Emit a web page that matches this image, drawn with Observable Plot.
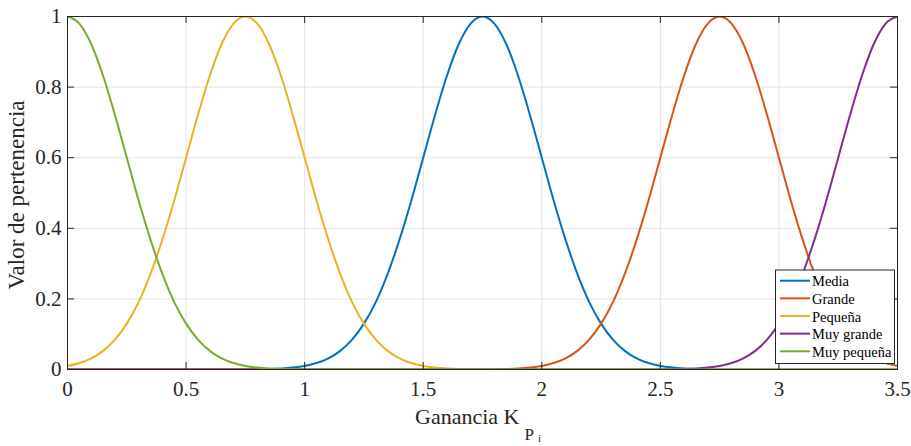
<!DOCTYPE html>
<html>
<head>
<meta charset="utf-8">
<script src="https://cdn.jsdelivr.net/npm/d3@7"></script>
<script src="https://cdn.jsdelivr.net/npm/@observablehq/plot@0.6"></script>
<style>
  html, body { margin: 0; padding: 0; background: #fff; }
  #chart svg { display: block; }
  #chart svg text, #chart svg tspan { font-family: "Liberation Serif", "Times New Roman", serif !important; }
</style>
</head>
<body>
<div id="chart"></div>
<script>
// ---- Data ----
const seriesNames = ["Media", "Grande", "Pequeña", "Muy grande", "Muy pequeña"];
const seriesColors = ["#0072BD", "#D95319", "#EDB120", "#7E2F8E", "#77AC30"];

const xs = [
  0.00, 0.05, 0.10, 0.15, 0.20, 0.25, 0.30, 0.35, 0.40, 0.45,
  0.50, 0.55, 0.60, 0.65, 0.70, 0.75, 0.80, 0.85, 0.90, 0.95,
  1.00, 1.05, 1.10, 1.15, 1.20, 1.25, 1.30, 1.35, 1.40, 1.45,
  1.50, 1.55, 1.60, 1.65, 1.70, 1.75, 1.80, 1.85, 1.90, 1.95,
  2.00, 2.05, 2.10, 2.15, 2.20, 2.25, 2.30, 2.35, 2.40, 2.45,
  2.50, 2.55, 2.60, 2.65, 2.70, 2.75, 2.80, 2.85, 2.90, 2.95,
  3.00, 3.05, 3.10, 3.15, 3.20, 3.25, 3.30, 3.35, 3.40, 3.45,
  3.50
];

const media = [
  0, 0, 0, 0, 0, 0, 0, 0, 0, 0,
  0, 0, 0, 0, 0, 0.0003, 0.0006, 0.0013, 0.0027, 0.0054,
  0.0101, 0.0183, 0.0317, 0.0528, 0.0845, 0.130, 0.191, 0.271, 0.368, 0.479,
  0.600, 0.721, 0.832, 0.922, 0.980, 1, 0.980, 0.922, 0.832, 0.721,
  0.600, 0.479, 0.368, 0.271, 0.191, 0.130, 0.0845, 0.0528, 0.0317, 0.0183,
  0.0101, 0.0054, 0.0027, 0.0013, 0.0006, 0.0003, 0, 0, 0, 0,
  0, 0, 0, 0, 0, 0, 0, 0, 0, 0,
  0
];

const grande = [
  0, 0, 0, 0, 0, 0, 0, 0, 0, 0,
  0, 0, 0, 0, 0, 0, 0, 0, 0, 0,
  0, 0, 0, 0, 0, 0, 0, 0, 0, 0,
  0, 0, 0, 0, 0, 0.0003, 0.0006, 0.0013, 0.0027, 0.0054,
  0.0101, 0.0183, 0.0317, 0.0528, 0.0845, 0.130, 0.191, 0.271, 0.368, 0.479,
  0.600, 0.721, 0.832, 0.922, 0.980, 1, 0.980, 0.922, 0.832, 0.721,
  0.600, 0.479, 0.368, 0.271, 0.191, 0.130, 0.0845, 0.0528, 0.0317, 0.0183,
  0.0101
];

const pequena = [
  0.0101, 0.0183, 0.0317, 0.0528, 0.0845, 0.130, 0.191, 0.271, 0.368, 0.479,
  0.600, 0.721, 0.832, 0.922, 0.980, 1, 0.980, 0.922, 0.832, 0.721,
  0.600, 0.479, 0.368, 0.271, 0.191, 0.130, 0.0845, 0.0528, 0.0317, 0.0183,
  0.0101, 0.0054, 0.0027, 0.0013, 0.0006, 0.0003, 0, 0, 0, 0,
  0, 0, 0, 0, 0, 0, 0, 0, 0, 0,
  0, 0, 0, 0, 0, 0, 0, 0, 0, 0,
  0, 0, 0, 0, 0, 0, 0, 0, 0, 0,
  0
];

const muyGrande = [
  0, 0, 0, 0, 0, 0, 0, 0, 0, 0,
  0, 0, 0, 0, 0, 0, 0, 0, 0, 0,
  0, 0, 0, 0, 0, 0, 0, 0, 0, 0,
  0, 0, 0, 0, 0, 0, 0, 0, 0, 0,
  0, 0, 0, 0, 0, 0, 0, 0, 0, 0,
  0.0003, 0.0006, 0.0013, 0.0027, 0.0054, 0.0101, 0.0183, 0.0317, 0.0528, 0.0845,
  0.130, 0.191, 0.271, 0.368, 0.479, 0.600, 0.721, 0.832, 0.922, 0.980,
  1
];

const muyPequena = [
  1, 0.980, 0.922, 0.832, 0.721, 0.600, 0.479, 0.368, 0.271, 0.191,
  0.130, 0.0845, 0.0528, 0.0317, 0.0183, 0.0101, 0.0054, 0.0027, 0.0013, 0.0006,
  0.0003, 0, 0, 0, 0, 0, 0, 0, 0, 0,
  0, 0, 0, 0, 0, 0, 0, 0, 0, 0,
  0, 0, 0, 0, 0, 0, 0, 0, 0, 0,
  0, 0, 0, 0, 0, 0, 0, 0, 0, 0,
  0, 0, 0, 0, 0, 0, 0, 0, 0, 0,
  0
];

const xTicks = [0, 0.5, 1, 1.5, 2, 2.5, 3, 3.5];
const xTickLabels = ["0", "0.5", "1", "1.5", "2", "2.5", "3", "3.5"];
const yTicks = [0, 0.2, 0.4, 0.6, 0.8, 1];
const yTickLabels = ["0", "0.2", "0.4", "0.6", "0.8", "1"];

// ---- Build long table ----
const seriesValues = [media, grande, pequena, muyGrande, muyPequena];
const rows = [];
seriesValues.forEach((vals, si) => {
  vals.forEach((v, i) => rows.push({x: xs[i], y: v, s: seriesNames[si]}));
});

// ---- Layout ----
const W = 911, H = 446;
const mL = 67, mR = 14, mT = 16, mB = 77;
const plotW = W - mL - mR, plotH = H - mT - mB;
const tickLen = 7;
const serif = "Liberation Serif, Times New Roman, serif";
const axisColor = "#262626";

const chart = Plot.plot({
  width: W,
  height: H,
  marginLeft: mL,
  marginRight: mR,
  marginTop: mT,
  marginBottom: mB,
  style: {background: "#fff", fontFamily: serif},
  x: {domain: [0, 3.5]},
  y: {domain: [0, 1]},
  color: {domain: seriesNames, range: seriesColors},
  marks: [
    Plot.gridX(xTicks, {stroke: "#e3e3e3", strokeOpacity: 1, strokeWidth: 1}),
    Plot.gridY(yTicks, {stroke: "#e3e3e3", strokeOpacity: 1, strokeWidth: 1}),
    Plot.line(rows, {x: "x", y: "y", z: "s", stroke: "s", strokeWidth: 2, curve: "monotone-x", clip: true}),
    // inward ticks: bottom, top, left, right
    Plot.tickX(xTicks, {x: d => d, stroke: axisColor, insetTop: plotH - tickLen}),
    Plot.tickX(xTicks, {x: d => d, stroke: axisColor, insetBottom: plotH - tickLen}),
    Plot.tickY(yTicks, {y: d => d, stroke: axisColor, insetRight: plotW - tickLen}),
    Plot.tickY(yTicks, {y: d => d, stroke: axisColor, insetLeft: plotW - tickLen}),
    Plot.frame({stroke: axisColor, strokeWidth: 1}),
    Plot.axisX(xTicks, {
      tickSize: 0, tickPadding: 12, fontSize: 21, fontFamily: serif, fill: axisColor,
      tickFormat: (d, i) => xTickLabels[i], label: null
    }),
    Plot.axisY(yTicks, {
      tickSize: 0, tickPadding: 6, fontSize: 21, fontFamily: serif, fill: axisColor,
      tickFormat: (d, i) => yTickLabels[i], label: null
    })
  ]
});

const svg = d3.select(chart);

// Y axis label
svg.append("text")
  .attr("transform", `translate(24, 195) rotate(-90)`)
  .attr("text-anchor", "middle")
  .attr("font-size", 23)
  .attr("fill", axisColor)
  .text("Valor de pertenencia");

// X axis label with subscripts
const xl = svg.append("text")
  .attr("x", 415)
  .attr("y", 424)
  .attr("text-anchor", "start")
  .attr("font-size", 22)
  .attr("fill", axisColor);
xl.append("tspan").text("Ganancia K");
xl.append("tspan").attr("font-size", 17).attr("dy", 16).attr("dx", 5).text("P");
xl.append("tspan").attr("font-size", 11).attr("dy", 2).attr("dx", 4).text("i");

// Legend (inside plot, lower right)
const lg = svg.append("g");
const lgX = 775.5, lgY = 270, lgW = 119, lgH = 93.5, rowH = 17.65;
lg.append("rect")
  .attr("x", lgX).attr("y", lgY).attr("width", lgW).attr("height", lgH)
  .attr("fill", "#fff").attr("stroke", axisColor).attr("stroke-width", 1);
seriesNames.forEach((name, i) => {
  const cy = lgY + 10.7 + i * rowH;
  lg.append("line")
    .attr("x1", lgX + 4.5).attr("x2", lgX + 34.5)
    .attr("y1", cy).attr("y2", cy)
    .attr("stroke", seriesColors[i]).attr("stroke-width", 2);
  lg.append("text")
    .attr("x", lgX + 36.5).attr("y", cy + 5.5)
    .attr("text-anchor", "start")
    .attr("font-size", 14.5)
    .attr("fill", "#000")
    .text(name);
});

document.getElementById("chart").appendChild(chart);
</script>
</body>
</html>
